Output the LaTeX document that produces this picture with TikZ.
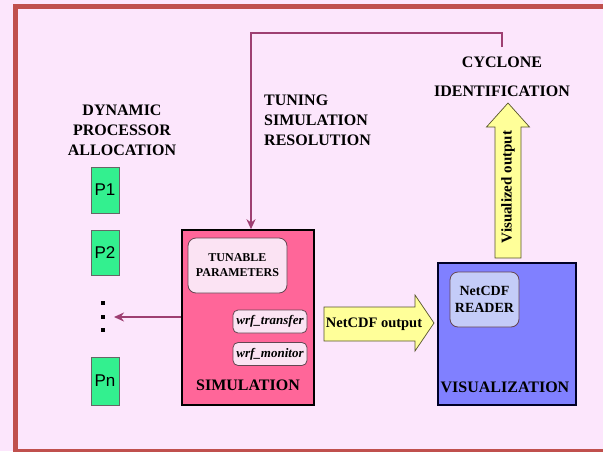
\documentclass[tikz,border=0pt]{standalone}
\usepackage{fontspec}
\setmainfont{Liberation Serif}
\newfontfamily\procfont{Liberation Sans}
\usetikzlibrary{arrows.meta}

\definecolor{pagebg}{HTML}{FCE6FC}
\definecolor{framered}{HTML}{C0504D}
\definecolor{simpink}{HTML}{FF6699}
\definecolor{softpink}{HTML}{FBE3F3}
\definecolor{vizblue}{HTML}{8080FF}
\definecolor{softblue}{HTML}{C4CCF8}
\definecolor{outyellow}{HTML}{FFFF99}
\definecolor{procgreen}{HTML}{33F08F}
\definecolor{fbline}{HTML}{9E3F72}

\tikzset{
  lbl/.style={inner sep=0pt, font=\fontsize{16}{20}\selectfont\bfseries},
  bigbox/.style={draw=black, line width=1.5pt},
  innerbox/.style={draw=black!70!magenta, line width=0.8pt, rounded corners=8pt,
                   align=center, inner sep=0pt},
  wrfbox/.style={innerbox, rounded corners=5pt, fill=softpink,
                 minimum width=74pt, minimum height=23pt,
                 font=\fontsize{13}{15}\selectfont\bfseries\itshape},
  procbox/.style={draw=black!60, line width=0.8pt, fill=procgreen,
                  minimum width=28pt, inner sep=0pt,
                  font=\procfont\fontsize{17}{18}\selectfont},
  fb/.style={draw=fbline, line width=2pt, -{Stealth[length=10pt,width=9pt]}},
  fat/.style={draw=black!50!olive, line width=0.7pt, fill=outyellow},
}

\begin{document}
\begin{tikzpicture}[x=1pt, y=-1pt]
  % page and frame
  \fill[pagebg] (0,0) rectangle (603,451);
  \useasboundingbox (0,0) rectangle (603,451);
  \draw[framered, line width=5pt] (15.5,6) rectangle (640,451.5);

  % simulation block
  \node[bigbox, fill=simpink, minimum width=132pt, minimum height=175pt] (sim) at (248,317.5) {};
  \node[innerbox, fill=softpink, minimum width=99pt, minimum height=55pt,
        font=\fontsize{12}{15}\selectfont\bfseries] (tune) at (237.5,265.5) {TUNABLE\\PARAMETERS};
  \node[wrfbox] (xfer) at (270,321.5) {wrf\_transfer};
  \node[wrfbox] (mon) at (270,354) {wrf\_monitor};
  \node[lbl] (simtitle) at (248,385) {SIMULATION};

  % visualization block
  \node[bigbox, draw=black!85!blue, line width=2pt, fill=vizblue,
        minimum width=138pt, minimum height=142pt] (viz) at (507,334) {};
  \node[innerbox, fill=softblue, minimum width=69pt, minimum height=55pt,
        font=\fontsize{14}{17}\selectfont\bfseries] (reader) at (484.5,299.5) {NetCDF\\READER};
  \node[lbl] (viztitle) at (505,387) {VISUALIZATION};

  % processors
  \foreach \name/\y/\h in {P1/190/46, P2/252.5/45, Pn/381/48}
    \node[procbox, minimum height=\h pt] (\name) at (105,\y) {\name};
  \foreach \y in {303,317,330}
    \fill (101.3,\y-1.7) rectangle ++(3.4,3.4);
  \coordinate (alloc) at (114,317);
  \draw[fb] (sim.west |- alloc) -- (alloc);

  % labels
  \node[lbl, align=center] (dpa) at (122,130) {DYNAMIC\\PROCESSOR\\ALLOCATION};
  \node[lbl, align=left, anchor=west] (tuning) at (264,120) {TUNING\\SIMULATION\\RESOLUTION};
  \node[lbl] (cyc) at (502,62) {CYCLONE};
  \node[lbl] (ident) at (502,91) {IDENTIFICATION};

  % feedback loop back into the simulation
  \coordinate (cycfoot) at (502,47);
  \draw[fb] (cycfoot) -- ++(0,-14) -| ([xshift=3pt]sim.north);

  % data flow arrows
  \draw[fat] (324,307) -- (415,307) -- (415,295) -- (434,323) -- (415,351)
    -- (415,341) -- (324,341) -- cycle;
  \node[font=\fontsize{14.5}{16}\selectfont\bfseries] (ncout) at (374,324) {NetCDF output};
  \draw[fat] (495,258) -- (495,127) -- (486.5,127) -- (508,103) -- (529.5,127)
    -- (521,127) -- (521,258) -- cycle;
  \node[rotate=90, font=\fontsize{15}{16}\selectfont\bfseries] (vizout) at (508,187) {Visualized output};
\end{tikzpicture}
\end{document}
